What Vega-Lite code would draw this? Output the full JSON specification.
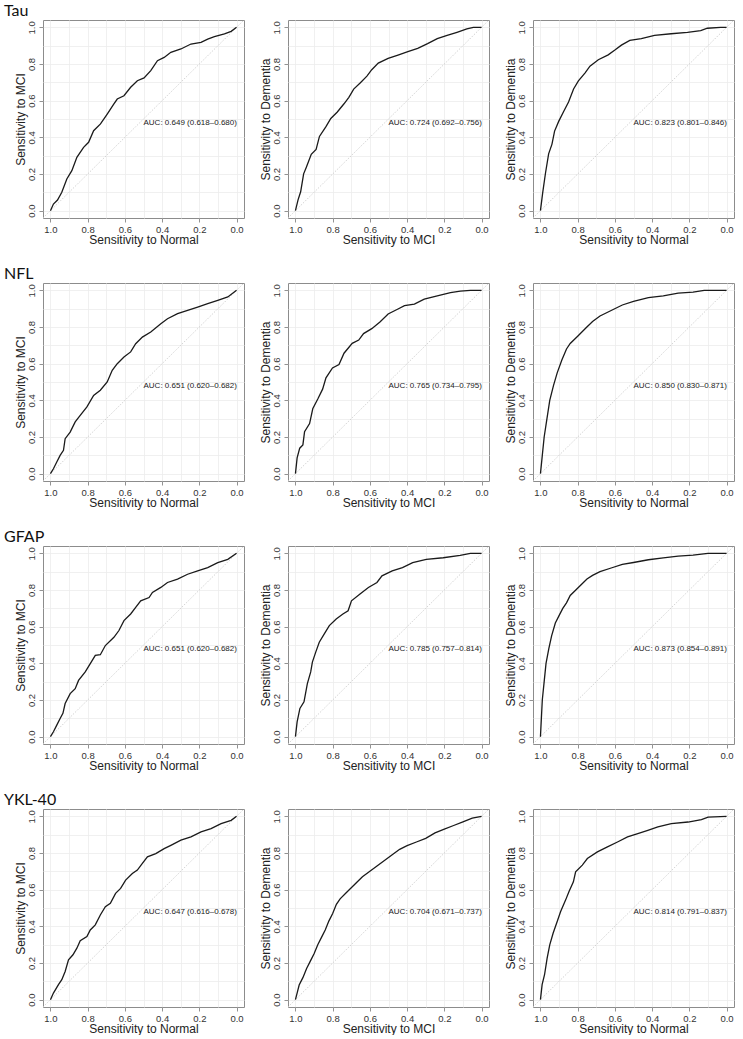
{
"$schema": "https://vega.github.io/schema/vega-lite/v6.json",
"padding": {"left": 3, "top": 2, "right": 0, "bottom": 0},
"background": "white",
"bounds": "flush",
"columns": 3,
"spacing": {"row": 65, "column": 44},
"config": {
 "view": {"stroke": "#8c8c8c", "strokeWidth": 1},
 "font": "Liberation Sans",
 "axis": {"domain": false, "gridColor": "#ececec", "gridWidth": 0.8, "tickColor": "#777777", "tickSize": 4, "tickWidth": 0.8, "labelFont": "Liberation Sans", "labelFontSize": 9.5, "labelColor": "#333333", "titleFont": "Liberation Sans", "titleFontSize": 12, "titleFontWeight": "normal", "titleColor": "#222222", "labelFlush": false, "labelOverlap": false},
 "axisX": {"labelPadding": 2, "titlePadding": 1},
 "axisY": {"labelAngle": -90, "labelAlign": "center", "labelBaseline": "bottom", "labelPadding": 3, "titlePadding": -1},
 "title": {"anchor": "start", "font": "Lato", "fontSize": 16, "fontWeight": "normal", "color": "#111111", "dx": -10, "offset": 1, "baseline": "alphabetic"}
},
"datasets": {
"roc": [
{"p":"tau1","spec":1,"sens":0},{"p":"tau1","spec":0.984,"sens":0.036},{"p":"tau1","spec":0.962,"sens":0.058},{"p":"tau1","spec":0.939,"sens":0.1},{"p":"tau1","spec":0.912,"sens":0.173},{"p":"tau1","spec":0.885,"sens":0.218},{"p":"tau1","spec":0.858,"sens":0.291},{"p":"tau1","spec":0.822,"sens":0.345},{"p":"tau1","spec":0.795,"sens":0.373},{"p":"tau1","spec":0.768,"sens":0.436},{"p":"tau1","spec":0.731,"sens":0.473},{"p":"tau1","spec":0.695,"sens":0.527},{"p":"tau1","spec":0.659,"sens":0.582},{"p":"tau1","spec":0.641,"sens":0.609},{"p":"tau1","spec":0.605,"sens":0.627},{"p":"tau1","spec":0.569,"sens":0.673},{"p":"tau1","spec":0.533,"sens":0.709},{"p":"tau1","spec":0.497,"sens":0.724},{"p":"tau1","spec":0.461,"sens":0.764},{"p":"tau1","spec":0.425,"sens":0.818},{"p":"tau1","spec":0.389,"sens":0.836},{"p":"tau1","spec":0.353,"sens":0.864},{"p":"tau1","spec":0.299,"sens":0.882},{"p":"tau1","spec":0.245,"sens":0.909},{"p":"tau1","spec":0.191,"sens":0.918},{"p":"tau1","spec":0.155,"sens":0.936},{"p":"tau1","spec":0.119,"sens":0.949},{"p":"tau1","spec":0.065,"sens":0.964},{"p":"tau1","spec":0.029,"sens":0.978},{"p":"tau1","spec":0,"sens":1},
{"p":"tau2","spec":1,"sens":0},{"p":"tau2","spec":0.986,"sens":0.059},{"p":"tau2","spec":0.972,"sens":0.103},{"p":"tau2","spec":0.956,"sens":0.201},{"p":"tau2","spec":0.942,"sens":0.236},{"p":"tau2","spec":0.915,"sens":0.307},{"p":"tau2","spec":0.889,"sens":0.334},{"p":"tau2","spec":0.871,"sens":0.405},{"p":"tau2","spec":0.836,"sens":0.458},{"p":"tau2","spec":0.81,"sens":0.503},{"p":"tau2","spec":0.775,"sens":0.538},{"p":"tau2","spec":0.739,"sens":0.583},{"p":"tau2","spec":0.713,"sens":0.618},{"p":"tau2","spec":0.687,"sens":0.663},{"p":"tau2","spec":0.651,"sens":0.698},{"p":"tau2","spec":0.616,"sens":0.734},{"p":"tau2","spec":0.59,"sens":0.769},{"p":"tau2","spec":0.555,"sens":0.805},{"p":"tau2","spec":0.502,"sens":0.831},{"p":"tau2","spec":0.449,"sens":0.849},{"p":"tau2","spec":0.396,"sens":0.867},{"p":"tau2","spec":0.343,"sens":0.885},{"p":"tau2","spec":0.29,"sens":0.911},{"p":"tau2","spec":0.238,"sens":0.938},{"p":"tau2","spec":0.185,"sens":0.956},{"p":"tau2","spec":0.132,"sens":0.973},{"p":"tau2","spec":0.079,"sens":0.991},{"p":"tau2","spec":0.044,"sens":1},{"p":"tau2","spec":0,"sens":1},
{"p":"tau3","spec":1,"sens":0},{"p":"tau3","spec":0.988,"sens":0.097},{"p":"tau3","spec":0.973,"sens":0.204},{"p":"tau3","spec":0.956,"sens":0.31},{"p":"tau3","spec":0.938,"sens":0.363},{"p":"tau3","spec":0.924,"sens":0.434},{"p":"tau3","spec":0.902,"sens":0.487},{"p":"tau3","spec":0.876,"sens":0.54},{"p":"tau3","spec":0.849,"sens":0.593},{"p":"tau3","spec":0.822,"sens":0.664},{"p":"tau3","spec":0.796,"sens":0.708},{"p":"tau3","spec":0.76,"sens":0.752},{"p":"tau3","spec":0.734,"sens":0.788},{"p":"tau3","spec":0.689,"sens":0.823},{"p":"tau3","spec":0.636,"sens":0.85},{"p":"tau3","spec":0.6,"sens":0.876},{"p":"tau3","spec":0.565,"sens":0.903},{"p":"tau3","spec":0.52,"sens":0.929},{"p":"tau3","spec":0.458,"sens":0.938},{"p":"tau3","spec":0.387,"sens":0.956},{"p":"tau3","spec":0.298,"sens":0.965},{"p":"tau3","spec":0.21,"sens":0.973},{"p":"tau3","spec":0.139,"sens":0.982},{"p":"tau3","spec":0.103,"sens":0.995},{"p":"tau3","spec":0.032,"sens":1},{"p":"tau3","spec":0,"sens":1},
{"p":"nfl1","spec":1,"sens":0},{"p":"nfl1","spec":0.984,"sens":0.027},{"p":"nfl1","spec":0.966,"sens":0.064},{"p":"nfl1","spec":0.948,"sens":0.1},{"p":"nfl1","spec":0.93,"sens":0.127},{"p":"nfl1","spec":0.921,"sens":0.191},{"p":"nfl1","spec":0.894,"sens":0.227},{"p":"nfl1","spec":0.867,"sens":0.282},{"p":"nfl1","spec":0.84,"sens":0.318},{"p":"nfl1","spec":0.804,"sens":0.364},{"p":"nfl1","spec":0.768,"sens":0.427},{"p":"nfl1","spec":0.732,"sens":0.455},{"p":"nfl1","spec":0.695,"sens":0.5},{"p":"nfl1","spec":0.668,"sens":0.564},{"p":"nfl1","spec":0.641,"sens":0.6},{"p":"nfl1","spec":0.605,"sens":0.636},{"p":"nfl1","spec":0.569,"sens":0.664},{"p":"nfl1","spec":0.542,"sens":0.709},{"p":"nfl1","spec":0.506,"sens":0.745},{"p":"nfl1","spec":0.461,"sens":0.773},{"p":"nfl1","spec":0.407,"sens":0.818},{"p":"nfl1","spec":0.371,"sens":0.845},{"p":"nfl1","spec":0.317,"sens":0.873},{"p":"nfl1","spec":0.263,"sens":0.891},{"p":"nfl1","spec":0.209,"sens":0.909},{"p":"nfl1","spec":0.155,"sens":0.927},{"p":"nfl1","spec":0.101,"sens":0.945},{"p":"nfl1","spec":0.047,"sens":0.964},{"p":"nfl1","spec":0,"sens":1},
{"p":"nfl2","spec":1,"sens":0},{"p":"nfl2","spec":0.991,"sens":0.086},{"p":"nfl2","spec":0.977,"sens":0.139},{"p":"nfl2","spec":0.96,"sens":0.157},{"p":"nfl2","spec":0.951,"sens":0.229},{"p":"nfl2","spec":0.924,"sens":0.273},{"p":"nfl2","spec":0.907,"sens":0.354},{"p":"nfl2","spec":0.88,"sens":0.407},{"p":"nfl2","spec":0.854,"sens":0.461},{"p":"nfl2","spec":0.836,"sens":0.523},{"p":"nfl2","spec":0.801,"sens":0.577},{"p":"nfl2","spec":0.766,"sens":0.595},{"p":"nfl2","spec":0.739,"sens":0.657},{"p":"nfl2","spec":0.695,"sens":0.711},{"p":"nfl2","spec":0.66,"sens":0.729},{"p":"nfl2","spec":0.634,"sens":0.764},{"p":"nfl2","spec":0.59,"sens":0.791},{"p":"nfl2","spec":0.546,"sens":0.827},{"p":"nfl2","spec":0.502,"sens":0.871},{"p":"nfl2","spec":0.449,"sens":0.898},{"p":"nfl2","spec":0.414,"sens":0.916},{"p":"nfl2","spec":0.361,"sens":0.925},{"p":"nfl2","spec":0.308,"sens":0.952},{"p":"nfl2","spec":0.238,"sens":0.97},{"p":"nfl2","spec":0.167,"sens":0.988},{"p":"nfl2","spec":0.114,"sens":0.996},{"p":"nfl2","spec":0.06,"sens":1},{"p":"nfl2","spec":0,"sens":1},
{"p":"nfl3","spec":1,"sens":0},{"p":"nfl3","spec":0.99,"sens":0.1},{"p":"nfl3","spec":0.98,"sens":0.2},{"p":"nfl3","spec":0.965,"sens":0.3},{"p":"nfl3","spec":0.95,"sens":0.4},{"p":"nfl3","spec":0.93,"sens":0.48},{"p":"nfl3","spec":0.91,"sens":0.55},{"p":"nfl3","spec":0.885,"sens":0.62},{"p":"nfl3","spec":0.86,"sens":0.68},{"p":"nfl3","spec":0.84,"sens":0.71},{"p":"nfl3","spec":0.8,"sens":0.75},{"p":"nfl3","spec":0.76,"sens":0.79},{"p":"nfl3","spec":0.72,"sens":0.83},{"p":"nfl3","spec":0.68,"sens":0.86},{"p":"nfl3","spec":0.62,"sens":0.89},{"p":"nfl3","spec":0.56,"sens":0.92},{"p":"nfl3","spec":0.5,"sens":0.94},{"p":"nfl3","spec":0.42,"sens":0.96},{"p":"nfl3","spec":0.34,"sens":0.97},{"p":"nfl3","spec":0.26,"sens":0.985},{"p":"nfl3","spec":0.18,"sens":0.99},{"p":"nfl3","spec":0.12,"sens":1},{"p":"nfl3","spec":0,"sens":1},
{"p":"gfap1","spec":1,"sens":0},{"p":"gfap1","spec":0.984,"sens":0.027},{"p":"gfap1","spec":0.966,"sens":0.063},{"p":"gfap1","spec":0.948,"sens":0.099},{"p":"gfap1","spec":0.933,"sens":0.127},{"p":"gfap1","spec":0.921,"sens":0.181},{"p":"gfap1","spec":0.894,"sens":0.235},{"p":"gfap1","spec":0.867,"sens":0.262},{"p":"gfap1","spec":0.849,"sens":0.307},{"p":"gfap1","spec":0.813,"sens":0.353},{"p":"gfap1","spec":0.786,"sens":0.398},{"p":"gfap1","spec":0.759,"sens":0.443},{"p":"gfap1","spec":0.732,"sens":0.447},{"p":"gfap1","spec":0.705,"sens":0.497},{"p":"gfap1","spec":0.659,"sens":0.542},{"p":"gfap1","spec":0.632,"sens":0.579},{"p":"gfap1","spec":0.605,"sens":0.633},{"p":"gfap1","spec":0.569,"sens":0.669},{"p":"gfap1","spec":0.542,"sens":0.705},{"p":"gfap1","spec":0.515,"sens":0.741},{"p":"gfap1","spec":0.47,"sens":0.759},{"p":"gfap1","spec":0.452,"sens":0.787},{"p":"gfap1","spec":0.407,"sens":0.814},{"p":"gfap1","spec":0.371,"sens":0.841},{"p":"gfap1","spec":0.317,"sens":0.859},{"p":"gfap1","spec":0.263,"sens":0.886},{"p":"gfap1","spec":0.209,"sens":0.904},{"p":"gfap1","spec":0.155,"sens":0.922},{"p":"gfap1","spec":0.101,"sens":0.949},{"p":"gfap1","spec":0.047,"sens":0.967},{"p":"gfap1","spec":0,"sens":1},
{"p":"gfap2","spec":1,"sens":0},{"p":"gfap2","spec":0.991,"sens":0.081},{"p":"gfap2","spec":0.976,"sens":0.154},{"p":"gfap2","spec":0.954,"sens":0.19},{"p":"gfap2","spec":0.936,"sens":0.289},{"p":"gfap2","spec":0.918,"sens":0.353},{"p":"gfap2","spec":0.909,"sens":0.407},{"p":"gfap2","spec":0.891,"sens":0.461},{"p":"gfap2","spec":0.872,"sens":0.515},{"p":"gfap2","spec":0.845,"sens":0.561},{"p":"gfap2","spec":0.818,"sens":0.606},{"p":"gfap2","spec":0.781,"sens":0.642},{"p":"gfap2","spec":0.745,"sens":0.669},{"p":"gfap2","spec":0.717,"sens":0.687},{"p":"gfap2","spec":0.699,"sens":0.741},{"p":"gfap2","spec":0.653,"sens":0.778},{"p":"gfap2","spec":0.608,"sens":0.814},{"p":"gfap2","spec":0.562,"sens":0.841},{"p":"gfap2","spec":0.535,"sens":0.877},{"p":"gfap2","spec":0.48,"sens":0.904},{"p":"gfap2","spec":0.425,"sens":0.922},{"p":"gfap2","spec":0.37,"sens":0.949},{"p":"gfap2","spec":0.297,"sens":0.967},{"p":"gfap2","spec":0.206,"sens":0.976},{"p":"gfap2","spec":0.115,"sens":0.989},{"p":"gfap2","spec":0.06,"sens":1},{"p":"gfap2","spec":0,"sens":1},
{"p":"gfap3","spec":1,"sens":0},{"p":"gfap3","spec":0.995,"sens":0.1},{"p":"gfap3","spec":0.99,"sens":0.2},{"p":"gfap3","spec":0.98,"sens":0.3},{"p":"gfap3","spec":0.97,"sens":0.4},{"p":"gfap3","spec":0.955,"sens":0.48},{"p":"gfap3","spec":0.94,"sens":0.55},{"p":"gfap3","spec":0.92,"sens":0.62},{"p":"gfap3","spec":0.9,"sens":0.66},{"p":"gfap3","spec":0.88,"sens":0.7},{"p":"gfap3","spec":0.86,"sens":0.73},{"p":"gfap3","spec":0.84,"sens":0.77},{"p":"gfap3","spec":0.81,"sens":0.8},{"p":"gfap3","spec":0.78,"sens":0.83},{"p":"gfap3","spec":0.75,"sens":0.86},{"p":"gfap3","spec":0.72,"sens":0.88},{"p":"gfap3","spec":0.68,"sens":0.9},{"p":"gfap3","spec":0.62,"sens":0.92},{"p":"gfap3","spec":0.56,"sens":0.94},{"p":"gfap3","spec":0.5,"sens":0.95},{"p":"gfap3","spec":0.42,"sens":0.965},{"p":"gfap3","spec":0.34,"sens":0.975},{"p":"gfap3","spec":0.26,"sens":0.985},{"p":"gfap3","spec":0.18,"sens":0.99},{"p":"gfap3","spec":0.1,"sens":1},{"p":"gfap3","spec":0,"sens":1},
{"p":"ykl1","spec":1,"sens":0},{"p":"ykl1","spec":0.984,"sens":0.036},{"p":"ykl1","spec":0.957,"sens":0.082},{"p":"ykl1","spec":0.939,"sens":0.109},{"p":"ykl1","spec":0.921,"sens":0.154},{"p":"ykl1","spec":0.903,"sens":0.217},{"p":"ykl1","spec":0.879,"sens":0.245},{"p":"ykl1","spec":0.858,"sens":0.281},{"p":"ykl1","spec":0.84,"sens":0.321},{"p":"ykl1","spec":0.804,"sens":0.344},{"p":"ykl1","spec":0.786,"sens":0.38},{"p":"ykl1","spec":0.759,"sens":0.408},{"p":"ykl1","spec":0.732,"sens":0.462},{"p":"ykl1","spec":0.705,"sens":0.507},{"p":"ykl1","spec":0.678,"sens":0.525},{"p":"ykl1","spec":0.65,"sens":0.58},{"p":"ykl1","spec":0.623,"sens":0.607},{"p":"ykl1","spec":0.596,"sens":0.652},{"p":"ykl1","spec":0.56,"sens":0.688},{"p":"ykl1","spec":0.533,"sens":0.707},{"p":"ykl1","spec":0.506,"sens":0.743},{"p":"ykl1","spec":0.479,"sens":0.779},{"p":"ykl1","spec":0.434,"sens":0.797},{"p":"ykl1","spec":0.389,"sens":0.824},{"p":"ykl1","spec":0.353,"sens":0.842},{"p":"ykl1","spec":0.299,"sens":0.87},{"p":"ykl1","spec":0.245,"sens":0.888},{"p":"ykl1","spec":0.191,"sens":0.915},{"p":"ykl1","spec":0.137,"sens":0.933},{"p":"ykl1","spec":0.083,"sens":0.96},{"p":"ykl1","spec":0.029,"sens":0.978},{"p":"ykl1","spec":0,"sens":1},
{"p":"ykl2","spec":1,"sens":0},{"p":"ykl2","spec":0.99,"sens":0.04},{"p":"ykl2","spec":0.98,"sens":0.08},{"p":"ykl2","spec":0.96,"sens":0.12},{"p":"ykl2","spec":0.94,"sens":0.17},{"p":"ykl2","spec":0.92,"sens":0.21},{"p":"ykl2","spec":0.9,"sens":0.25},{"p":"ykl2","spec":0.88,"sens":0.3},{"p":"ykl2","spec":0.86,"sens":0.34},{"p":"ykl2","spec":0.84,"sens":0.38},{"p":"ykl2","spec":0.82,"sens":0.43},{"p":"ykl2","spec":0.8,"sens":0.47},{"p":"ykl2","spec":0.78,"sens":0.52},{"p":"ykl2","spec":0.76,"sens":0.55},{"p":"ykl2","spec":0.73,"sens":0.58},{"p":"ykl2","spec":0.7,"sens":0.61},{"p":"ykl2","spec":0.67,"sens":0.64},{"p":"ykl2","spec":0.64,"sens":0.67},{"p":"ykl2","spec":0.6,"sens":0.7},{"p":"ykl2","spec":0.56,"sens":0.73},{"p":"ykl2","spec":0.52,"sens":0.76},{"p":"ykl2","spec":0.48,"sens":0.79},{"p":"ykl2","spec":0.44,"sens":0.82},{"p":"ykl2","spec":0.4,"sens":0.84},{"p":"ykl2","spec":0.35,"sens":0.86},{"p":"ykl2","spec":0.3,"sens":0.88},{"p":"ykl2","spec":0.25,"sens":0.91},{"p":"ykl2","spec":0.2,"sens":0.93},{"p":"ykl2","spec":0.15,"sens":0.95},{"p":"ykl2","spec":0.1,"sens":0.97},{"p":"ykl2","spec":0.05,"sens":0.99},{"p":"ykl2","spec":0,"sens":1},
{"p":"ykl3","spec":1,"sens":0},{"p":"ykl3","spec":0.991,"sens":0.082},{"p":"ykl3","spec":0.978,"sens":0.136},{"p":"ykl3","spec":0.964,"sens":0.226},{"p":"ykl3","spec":0.95,"sens":0.299},{"p":"ykl3","spec":0.932,"sens":0.362},{"p":"ykl3","spec":0.91,"sens":0.426},{"p":"ykl3","spec":0.892,"sens":0.48},{"p":"ykl3","spec":0.865,"sens":0.543},{"p":"ykl3","spec":0.847,"sens":0.589},{"p":"ykl3","spec":0.823,"sens":0.643},{"p":"ykl3","spec":0.811,"sens":0.697},{"p":"ykl3","spec":0.775,"sens":0.734},{"p":"ykl3","spec":0.748,"sens":0.77},{"p":"ykl3","spec":0.694,"sens":0.806},{"p":"ykl3","spec":0.64,"sens":0.833},{"p":"ykl3","spec":0.586,"sens":0.86},{"p":"ykl3","spec":0.532,"sens":0.888},{"p":"ykl3","spec":0.477,"sens":0.906},{"p":"ykl3","spec":0.423,"sens":0.924},{"p":"ykl3","spec":0.369,"sens":0.942},{"p":"ykl3","spec":0.297,"sens":0.96},{"p":"ykl3","spec":0.207,"sens":0.969},{"p":"ykl3","spec":0.135,"sens":0.982},{"p":"ykl3","spec":0.099,"sens":0.996},{"p":"ykl3","spec":0,"sens":1}
]
},
"concat": [
 {"width": 201, "height": 198, "title": "Tau", "resolve": {"axis": {"x": "independent", "y": "independent"}}, "layer": [
  {"data": {"values": [{}]}, "mark": {"type": "rule", "color": "#c8c8c8", "strokeWidth": 0.8, "strokeDash": [1.5, 1.5]}, "encoding": {"x": {"datum": 1.04, "type": "quantitative", "scale": {"domain": [-0.04, 1.04], "reverse": true, "nice": false, "zero": false}, "axis": {"orient": "top", "values": [0,0.1,0.2,0.3,0.4,0.5,0.6,0.7,0.8,0.9,1], "grid": true, "labels": false, "ticks": false, "title": null}}, "y": {"datum": -0.04, "type": "quantitative", "scale": {"domain": [-0.04, 1.04], "nice": false, "zero": false}, "axis": {"orient": "right", "values": [0,0.1,0.2,0.3,0.4,0.5,0.6,0.7,0.8,0.9,1], "grid": true, "labels": false, "ticks": false, "title": null}}, "x2": {"datum": -0.04}, "y2": {"datum": 1.04}}},
  {"data": {"name": "roc"}, "transform": [{"filter": "datum.p == 'tau1'"}], "mark": {"type": "line", "color": "#1a1a1a", "strokeWidth": 1.3}, "encoding": {
   "x": {"field": "spec", "type": "quantitative", "axis": {"orient": "bottom", "grid": false, "title": "Sensitivity to Normal", "values": [0,0.2,0.4,0.6,0.8,1], "format": ".1f"}},
   "y": {"field": "sens", "type": "quantitative", "axis": {"orient": "left", "grid": false, "title": "Sensitivity to MCI", "values": [0,0.2,0.4,0.6,0.8,1], "format": ".1f"}}}},
  {"data": {"values": [{"t": "AUC: 0.649 (0.618–0.680)"}]}, "mark": {"type": "text", "align": "left", "baseline": "top", "fontSize": 8, "font": "Liberation Sans", "color": "#1a1a1a"}, "encoding": {"x": {"datum": 0.5, "type": "quantitative", "axis": null}, "y": {"datum": 0.5, "type": "quantitative", "axis": null}, "text": {"field": "t"}}}
 ]},
 {"width": 201, "height": 198, "resolve": {"axis": {"x": "independent", "y": "independent"}}, "layer": [
  {"data": {"values": [{}]}, "mark": {"type": "rule", "color": "#c8c8c8", "strokeWidth": 0.8, "strokeDash": [1.5, 1.5]}, "encoding": {"x": {"datum": 1.04, "type": "quantitative", "scale": {"domain": [-0.04, 1.04], "reverse": true, "nice": false, "zero": false}, "axis": {"orient": "top", "values": [0,0.1,0.2,0.3,0.4,0.5,0.6,0.7,0.8,0.9,1], "grid": true, "labels": false, "ticks": false, "title": null}}, "y": {"datum": -0.04, "type": "quantitative", "scale": {"domain": [-0.04, 1.04], "nice": false, "zero": false}, "axis": {"orient": "right", "values": [0,0.1,0.2,0.3,0.4,0.5,0.6,0.7,0.8,0.9,1], "grid": true, "labels": false, "ticks": false, "title": null}}, "x2": {"datum": -0.04}, "y2": {"datum": 1.04}}},
  {"data": {"name": "roc"}, "transform": [{"filter": "datum.p == 'tau2'"}], "mark": {"type": "line", "color": "#1a1a1a", "strokeWidth": 1.3}, "encoding": {
   "x": {"field": "spec", "type": "quantitative", "axis": {"orient": "bottom", "grid": false, "title": "Sensitivity to MCI", "values": [0,0.2,0.4,0.6,0.8,1], "format": ".1f"}},
   "y": {"field": "sens", "type": "quantitative", "axis": {"orient": "left", "grid": false, "title": "Sensitivity to Dementia", "values": [0,0.2,0.4,0.6,0.8,1], "format": ".1f"}}}},
  {"data": {"values": [{"t": "AUC: 0.724 (0.692–0.756)"}]}, "mark": {"type": "text", "align": "left", "baseline": "top", "fontSize": 8, "font": "Liberation Sans", "color": "#1a1a1a"}, "encoding": {"x": {"datum": 0.5, "type": "quantitative", "axis": null}, "y": {"datum": 0.5, "type": "quantitative", "axis": null}, "text": {"field": "t"}}}
 ]},
 {"width": 201, "height": 198, "resolve": {"axis": {"x": "independent", "y": "independent"}}, "layer": [
  {"data": {"values": [{}]}, "mark": {"type": "rule", "color": "#c8c8c8", "strokeWidth": 0.8, "strokeDash": [1.5, 1.5]}, "encoding": {"x": {"datum": 1.04, "type": "quantitative", "scale": {"domain": [-0.04, 1.04], "reverse": true, "nice": false, "zero": false}, "axis": {"orient": "top", "values": [0,0.1,0.2,0.3,0.4,0.5,0.6,0.7,0.8,0.9,1], "grid": true, "labels": false, "ticks": false, "title": null}}, "y": {"datum": -0.04, "type": "quantitative", "scale": {"domain": [-0.04, 1.04], "nice": false, "zero": false}, "axis": {"orient": "right", "values": [0,0.1,0.2,0.3,0.4,0.5,0.6,0.7,0.8,0.9,1], "grid": true, "labels": false, "ticks": false, "title": null}}, "x2": {"datum": -0.04}, "y2": {"datum": 1.04}}},
  {"data": {"name": "roc"}, "transform": [{"filter": "datum.p == 'tau3'"}], "mark": {"type": "line", "color": "#1a1a1a", "strokeWidth": 1.3}, "encoding": {
   "x": {"field": "spec", "type": "quantitative", "axis": {"orient": "bottom", "grid": false, "title": "Sensitivity to Normal", "values": [0,0.2,0.4,0.6,0.8,1], "format": ".1f"}},
   "y": {"field": "sens", "type": "quantitative", "axis": {"orient": "left", "grid": false, "title": "Sensitivity to Dementia", "values": [0,0.2,0.4,0.6,0.8,1], "format": ".1f"}}}},
  {"data": {"values": [{"t": "AUC: 0.823 (0.801–0.846)"}]}, "mark": {"type": "text", "align": "left", "baseline": "top", "fontSize": 8, "font": "Liberation Sans", "color": "#1a1a1a"}, "encoding": {"x": {"datum": 0.5, "type": "quantitative", "axis": null}, "y": {"datum": 0.5, "type": "quantitative", "axis": null}, "text": {"field": "t"}}}
 ]},
 {"width": 201, "height": 198, "title": "NFL", "resolve": {"axis": {"x": "independent", "y": "independent"}}, "layer": [
  {"data": {"values": [{}]}, "mark": {"type": "rule", "color": "#c8c8c8", "strokeWidth": 0.8, "strokeDash": [1.5, 1.5]}, "encoding": {"x": {"datum": 1.04, "type": "quantitative", "scale": {"domain": [-0.04, 1.04], "reverse": true, "nice": false, "zero": false}, "axis": {"orient": "top", "values": [0,0.1,0.2,0.3,0.4,0.5,0.6,0.7,0.8,0.9,1], "grid": true, "labels": false, "ticks": false, "title": null}}, "y": {"datum": -0.04, "type": "quantitative", "scale": {"domain": [-0.04, 1.04], "nice": false, "zero": false}, "axis": {"orient": "right", "values": [0,0.1,0.2,0.3,0.4,0.5,0.6,0.7,0.8,0.9,1], "grid": true, "labels": false, "ticks": false, "title": null}}, "x2": {"datum": -0.04}, "y2": {"datum": 1.04}}},
  {"data": {"name": "roc"}, "transform": [{"filter": "datum.p == 'nfl1'"}], "mark": {"type": "line", "color": "#1a1a1a", "strokeWidth": 1.3}, "encoding": {
   "x": {"field": "spec", "type": "quantitative", "axis": {"orient": "bottom", "grid": false, "title": "Sensitivity to Normal", "values": [0,0.2,0.4,0.6,0.8,1], "format": ".1f"}},
   "y": {"field": "sens", "type": "quantitative", "axis": {"orient": "left", "grid": false, "title": "Sensitivity to MCI", "values": [0,0.2,0.4,0.6,0.8,1], "format": ".1f"}}}},
  {"data": {"values": [{"t": "AUC: 0.651 (0.620–0.682)"}]}, "mark": {"type": "text", "align": "left", "baseline": "top", "fontSize": 8, "font": "Liberation Sans", "color": "#1a1a1a"}, "encoding": {"x": {"datum": 0.5, "type": "quantitative", "axis": null}, "y": {"datum": 0.5, "type": "quantitative", "axis": null}, "text": {"field": "t"}}}
 ]},
 {"width": 201, "height": 198, "resolve": {"axis": {"x": "independent", "y": "independent"}}, "layer": [
  {"data": {"values": [{}]}, "mark": {"type": "rule", "color": "#c8c8c8", "strokeWidth": 0.8, "strokeDash": [1.5, 1.5]}, "encoding": {"x": {"datum": 1.04, "type": "quantitative", "scale": {"domain": [-0.04, 1.04], "reverse": true, "nice": false, "zero": false}, "axis": {"orient": "top", "values": [0,0.1,0.2,0.3,0.4,0.5,0.6,0.7,0.8,0.9,1], "grid": true, "labels": false, "ticks": false, "title": null}}, "y": {"datum": -0.04, "type": "quantitative", "scale": {"domain": [-0.04, 1.04], "nice": false, "zero": false}, "axis": {"orient": "right", "values": [0,0.1,0.2,0.3,0.4,0.5,0.6,0.7,0.8,0.9,1], "grid": true, "labels": false, "ticks": false, "title": null}}, "x2": {"datum": -0.04}, "y2": {"datum": 1.04}}},
  {"data": {"name": "roc"}, "transform": [{"filter": "datum.p == 'nfl2'"}], "mark": {"type": "line", "color": "#1a1a1a", "strokeWidth": 1.3}, "encoding": {
   "x": {"field": "spec", "type": "quantitative", "axis": {"orient": "bottom", "grid": false, "title": "Sensitivity to MCI", "values": [0,0.2,0.4,0.6,0.8,1], "format": ".1f"}},
   "y": {"field": "sens", "type": "quantitative", "axis": {"orient": "left", "grid": false, "title": "Sensitivity to Dementia", "values": [0,0.2,0.4,0.6,0.8,1], "format": ".1f"}}}},
  {"data": {"values": [{"t": "AUC: 0.765 (0.734–0.795)"}]}, "mark": {"type": "text", "align": "left", "baseline": "top", "fontSize": 8, "font": "Liberation Sans", "color": "#1a1a1a"}, "encoding": {"x": {"datum": 0.5, "type": "quantitative", "axis": null}, "y": {"datum": 0.5, "type": "quantitative", "axis": null}, "text": {"field": "t"}}}
 ]},
 {"width": 201, "height": 198, "resolve": {"axis": {"x": "independent", "y": "independent"}}, "layer": [
  {"data": {"values": [{}]}, "mark": {"type": "rule", "color": "#c8c8c8", "strokeWidth": 0.8, "strokeDash": [1.5, 1.5]}, "encoding": {"x": {"datum": 1.04, "type": "quantitative", "scale": {"domain": [-0.04, 1.04], "reverse": true, "nice": false, "zero": false}, "axis": {"orient": "top", "values": [0,0.1,0.2,0.3,0.4,0.5,0.6,0.7,0.8,0.9,1], "grid": true, "labels": false, "ticks": false, "title": null}}, "y": {"datum": -0.04, "type": "quantitative", "scale": {"domain": [-0.04, 1.04], "nice": false, "zero": false}, "axis": {"orient": "right", "values": [0,0.1,0.2,0.3,0.4,0.5,0.6,0.7,0.8,0.9,1], "grid": true, "labels": false, "ticks": false, "title": null}}, "x2": {"datum": -0.04}, "y2": {"datum": 1.04}}},
  {"data": {"name": "roc"}, "transform": [{"filter": "datum.p == 'nfl3'"}], "mark": {"type": "line", "color": "#1a1a1a", "strokeWidth": 1.3}, "encoding": {
   "x": {"field": "spec", "type": "quantitative", "axis": {"orient": "bottom", "grid": false, "title": "Sensitivity to Normal", "values": [0,0.2,0.4,0.6,0.8,1], "format": ".1f"}},
   "y": {"field": "sens", "type": "quantitative", "axis": {"orient": "left", "grid": false, "title": "Sensitivity to Dementia", "values": [0,0.2,0.4,0.6,0.8,1], "format": ".1f"}}}},
  {"data": {"values": [{"t": "AUC: 0.850 (0.830–0.871)"}]}, "mark": {"type": "text", "align": "left", "baseline": "top", "fontSize": 8, "font": "Liberation Sans", "color": "#1a1a1a"}, "encoding": {"x": {"datum": 0.5, "type": "quantitative", "axis": null}, "y": {"datum": 0.5, "type": "quantitative", "axis": null}, "text": {"field": "t"}}}
 ]},
 {"width": 201, "height": 198, "title": "GFAP", "resolve": {"axis": {"x": "independent", "y": "independent"}}, "layer": [
  {"data": {"values": [{}]}, "mark": {"type": "rule", "color": "#c8c8c8", "strokeWidth": 0.8, "strokeDash": [1.5, 1.5]}, "encoding": {"x": {"datum": 1.04, "type": "quantitative", "scale": {"domain": [-0.04, 1.04], "reverse": true, "nice": false, "zero": false}, "axis": {"orient": "top", "values": [0,0.1,0.2,0.3,0.4,0.5,0.6,0.7,0.8,0.9,1], "grid": true, "labels": false, "ticks": false, "title": null}}, "y": {"datum": -0.04, "type": "quantitative", "scale": {"domain": [-0.04, 1.04], "nice": false, "zero": false}, "axis": {"orient": "right", "values": [0,0.1,0.2,0.3,0.4,0.5,0.6,0.7,0.8,0.9,1], "grid": true, "labels": false, "ticks": false, "title": null}}, "x2": {"datum": -0.04}, "y2": {"datum": 1.04}}},
  {"data": {"name": "roc"}, "transform": [{"filter": "datum.p == 'gfap1'"}], "mark": {"type": "line", "color": "#1a1a1a", "strokeWidth": 1.3}, "encoding": {
   "x": {"field": "spec", "type": "quantitative", "axis": {"orient": "bottom", "grid": false, "title": "Sensitivity to Normal", "values": [0,0.2,0.4,0.6,0.8,1], "format": ".1f"}},
   "y": {"field": "sens", "type": "quantitative", "axis": {"orient": "left", "grid": false, "title": "Sensitivity to MCI", "values": [0,0.2,0.4,0.6,0.8,1], "format": ".1f"}}}},
  {"data": {"values": [{"t": "AUC: 0.651 (0.620–0.682)"}]}, "mark": {"type": "text", "align": "left", "baseline": "top", "fontSize": 8, "font": "Liberation Sans", "color": "#1a1a1a"}, "encoding": {"x": {"datum": 0.5, "type": "quantitative", "axis": null}, "y": {"datum": 0.5, "type": "quantitative", "axis": null}, "text": {"field": "t"}}}
 ]},
 {"width": 201, "height": 198, "resolve": {"axis": {"x": "independent", "y": "independent"}}, "layer": [
  {"data": {"values": [{}]}, "mark": {"type": "rule", "color": "#c8c8c8", "strokeWidth": 0.8, "strokeDash": [1.5, 1.5]}, "encoding": {"x": {"datum": 1.04, "type": "quantitative", "scale": {"domain": [-0.04, 1.04], "reverse": true, "nice": false, "zero": false}, "axis": {"orient": "top", "values": [0,0.1,0.2,0.3,0.4,0.5,0.6,0.7,0.8,0.9,1], "grid": true, "labels": false, "ticks": false, "title": null}}, "y": {"datum": -0.04, "type": "quantitative", "scale": {"domain": [-0.04, 1.04], "nice": false, "zero": false}, "axis": {"orient": "right", "values": [0,0.1,0.2,0.3,0.4,0.5,0.6,0.7,0.8,0.9,1], "grid": true, "labels": false, "ticks": false, "title": null}}, "x2": {"datum": -0.04}, "y2": {"datum": 1.04}}},
  {"data": {"name": "roc"}, "transform": [{"filter": "datum.p == 'gfap2'"}], "mark": {"type": "line", "color": "#1a1a1a", "strokeWidth": 1.3}, "encoding": {
   "x": {"field": "spec", "type": "quantitative", "axis": {"orient": "bottom", "grid": false, "title": "Sensitivity to MCI", "values": [0,0.2,0.4,0.6,0.8,1], "format": ".1f"}},
   "y": {"field": "sens", "type": "quantitative", "axis": {"orient": "left", "grid": false, "title": "Sensitivity to Dementia", "values": [0,0.2,0.4,0.6,0.8,1], "format": ".1f"}}}},
  {"data": {"values": [{"t": "AUC: 0.785 (0.757–0.814)"}]}, "mark": {"type": "text", "align": "left", "baseline": "top", "fontSize": 8, "font": "Liberation Sans", "color": "#1a1a1a"}, "encoding": {"x": {"datum": 0.5, "type": "quantitative", "axis": null}, "y": {"datum": 0.5, "type": "quantitative", "axis": null}, "text": {"field": "t"}}}
 ]},
 {"width": 201, "height": 198, "resolve": {"axis": {"x": "independent", "y": "independent"}}, "layer": [
  {"data": {"values": [{}]}, "mark": {"type": "rule", "color": "#c8c8c8", "strokeWidth": 0.8, "strokeDash": [1.5, 1.5]}, "encoding": {"x": {"datum": 1.04, "type": "quantitative", "scale": {"domain": [-0.04, 1.04], "reverse": true, "nice": false, "zero": false}, "axis": {"orient": "top", "values": [0,0.1,0.2,0.3,0.4,0.5,0.6,0.7,0.8,0.9,1], "grid": true, "labels": false, "ticks": false, "title": null}}, "y": {"datum": -0.04, "type": "quantitative", "scale": {"domain": [-0.04, 1.04], "nice": false, "zero": false}, "axis": {"orient": "right", "values": [0,0.1,0.2,0.3,0.4,0.5,0.6,0.7,0.8,0.9,1], "grid": true, "labels": false, "ticks": false, "title": null}}, "x2": {"datum": -0.04}, "y2": {"datum": 1.04}}},
  {"data": {"name": "roc"}, "transform": [{"filter": "datum.p == 'gfap3'"}], "mark": {"type": "line", "color": "#1a1a1a", "strokeWidth": 1.3}, "encoding": {
   "x": {"field": "spec", "type": "quantitative", "axis": {"orient": "bottom", "grid": false, "title": "Sensitivity to Normal", "values": [0,0.2,0.4,0.6,0.8,1], "format": ".1f"}},
   "y": {"field": "sens", "type": "quantitative", "axis": {"orient": "left", "grid": false, "title": "Sensitivity to Dementia", "values": [0,0.2,0.4,0.6,0.8,1], "format": ".1f"}}}},
  {"data": {"values": [{"t": "AUC: 0.873 (0.854–0.891)"}]}, "mark": {"type": "text", "align": "left", "baseline": "top", "fontSize": 8, "font": "Liberation Sans", "color": "#1a1a1a"}, "encoding": {"x": {"datum": 0.5, "type": "quantitative", "axis": null}, "y": {"datum": 0.5, "type": "quantitative", "axis": null}, "text": {"field": "t"}}}
 ]},
 {"width": 201, "height": 198, "title": "YKL-40", "resolve": {"axis": {"x": "independent", "y": "independent"}}, "layer": [
  {"data": {"values": [{}]}, "mark": {"type": "rule", "color": "#c8c8c8", "strokeWidth": 0.8, "strokeDash": [1.5, 1.5]}, "encoding": {"x": {"datum": 1.04, "type": "quantitative", "scale": {"domain": [-0.04, 1.04], "reverse": true, "nice": false, "zero": false}, "axis": {"orient": "top", "values": [0,0.1,0.2,0.3,0.4,0.5,0.6,0.7,0.8,0.9,1], "grid": true, "labels": false, "ticks": false, "title": null}}, "y": {"datum": -0.04, "type": "quantitative", "scale": {"domain": [-0.04, 1.04], "nice": false, "zero": false}, "axis": {"orient": "right", "values": [0,0.1,0.2,0.3,0.4,0.5,0.6,0.7,0.8,0.9,1], "grid": true, "labels": false, "ticks": false, "title": null}}, "x2": {"datum": -0.04}, "y2": {"datum": 1.04}}},
  {"data": {"name": "roc"}, "transform": [{"filter": "datum.p == 'ykl1'"}], "mark": {"type": "line", "color": "#1a1a1a", "strokeWidth": 1.3}, "encoding": {
   "x": {"field": "spec", "type": "quantitative", "axis": {"orient": "bottom", "grid": false, "title": "Sensitivity to Normal", "values": [0,0.2,0.4,0.6,0.8,1], "format": ".1f"}},
   "y": {"field": "sens", "type": "quantitative", "axis": {"orient": "left", "grid": false, "title": "Sensitivity to MCI", "values": [0,0.2,0.4,0.6,0.8,1], "format": ".1f"}}}},
  {"data": {"values": [{"t": "AUC: 0.647 (0.616–0.678)"}]}, "mark": {"type": "text", "align": "left", "baseline": "top", "fontSize": 8, "font": "Liberation Sans", "color": "#1a1a1a"}, "encoding": {"x": {"datum": 0.5, "type": "quantitative", "axis": null}, "y": {"datum": 0.5, "type": "quantitative", "axis": null}, "text": {"field": "t"}}}
 ]},
 {"width": 201, "height": 198, "resolve": {"axis": {"x": "independent", "y": "independent"}}, "layer": [
  {"data": {"values": [{}]}, "mark": {"type": "rule", "color": "#c8c8c8", "strokeWidth": 0.8, "strokeDash": [1.5, 1.5]}, "encoding": {"x": {"datum": 1.04, "type": "quantitative", "scale": {"domain": [-0.04, 1.04], "reverse": true, "nice": false, "zero": false}, "axis": {"orient": "top", "values": [0,0.1,0.2,0.3,0.4,0.5,0.6,0.7,0.8,0.9,1], "grid": true, "labels": false, "ticks": false, "title": null}}, "y": {"datum": -0.04, "type": "quantitative", "scale": {"domain": [-0.04, 1.04], "nice": false, "zero": false}, "axis": {"orient": "right", "values": [0,0.1,0.2,0.3,0.4,0.5,0.6,0.7,0.8,0.9,1], "grid": true, "labels": false, "ticks": false, "title": null}}, "x2": {"datum": -0.04}, "y2": {"datum": 1.04}}},
  {"data": {"name": "roc"}, "transform": [{"filter": "datum.p == 'ykl2'"}], "mark": {"type": "line", "color": "#1a1a1a", "strokeWidth": 1.3}, "encoding": {
   "x": {"field": "spec", "type": "quantitative", "axis": {"orient": "bottom", "grid": false, "title": "Sensitivity to MCI", "values": [0,0.2,0.4,0.6,0.8,1], "format": ".1f"}},
   "y": {"field": "sens", "type": "quantitative", "axis": {"orient": "left", "grid": false, "title": "Sensitivity to Dementia", "values": [0,0.2,0.4,0.6,0.8,1], "format": ".1f"}}}},
  {"data": {"values": [{"t": "AUC: 0.704 (0.671–0.737)"}]}, "mark": {"type": "text", "align": "left", "baseline": "top", "fontSize": 8, "font": "Liberation Sans", "color": "#1a1a1a"}, "encoding": {"x": {"datum": 0.5, "type": "quantitative", "axis": null}, "y": {"datum": 0.5, "type": "quantitative", "axis": null}, "text": {"field": "t"}}}
 ]},
 {"width": 201, "height": 198, "resolve": {"axis": {"x": "independent", "y": "independent"}}, "layer": [
  {"data": {"values": [{}]}, "mark": {"type": "rule", "color": "#c8c8c8", "strokeWidth": 0.8, "strokeDash": [1.5, 1.5]}, "encoding": {"x": {"datum": 1.04, "type": "quantitative", "scale": {"domain": [-0.04, 1.04], "reverse": true, "nice": false, "zero": false}, "axis": {"orient": "top", "values": [0,0.1,0.2,0.3,0.4,0.5,0.6,0.7,0.8,0.9,1], "grid": true, "labels": false, "ticks": false, "title": null}}, "y": {"datum": -0.04, "type": "quantitative", "scale": {"domain": [-0.04, 1.04], "nice": false, "zero": false}, "axis": {"orient": "right", "values": [0,0.1,0.2,0.3,0.4,0.5,0.6,0.7,0.8,0.9,1], "grid": true, "labels": false, "ticks": false, "title": null}}, "x2": {"datum": -0.04}, "y2": {"datum": 1.04}}},
  {"data": {"name": "roc"}, "transform": [{"filter": "datum.p == 'ykl3'"}], "mark": {"type": "line", "color": "#1a1a1a", "strokeWidth": 1.3}, "encoding": {
   "x": {"field": "spec", "type": "quantitative", "axis": {"orient": "bottom", "grid": false, "title": "Sensitivity to Normal", "values": [0,0.2,0.4,0.6,0.8,1], "format": ".1f"}},
   "y": {"field": "sens", "type": "quantitative", "axis": {"orient": "left", "grid": false, "title": "Sensitivity to Dementia", "values": [0,0.2,0.4,0.6,0.8,1], "format": ".1f"}}}},
  {"data": {"values": [{"t": "AUC: 0.814 (0.791–0.837)"}]}, "mark": {"type": "text", "align": "left", "baseline": "top", "fontSize": 8, "font": "Liberation Sans", "color": "#1a1a1a"}, "encoding": {"x": {"datum": 0.5, "type": "quantitative", "axis": null}, "y": {"datum": 0.5, "type": "quantitative", "axis": null}, "text": {"field": "t"}}}
 ]}
]
}
